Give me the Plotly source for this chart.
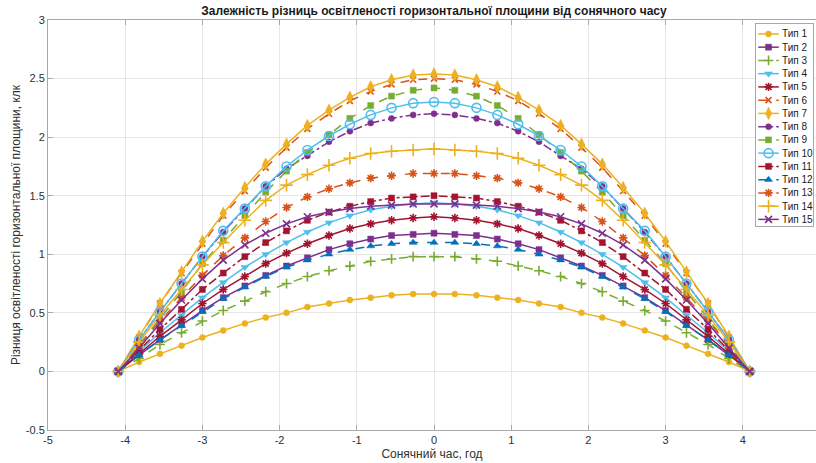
import plotly.graph_objects as go

# ---------------- data ----------------
hours = [-4.09, -3.82, -3.55, -3.27, -3.00, -2.73, -2.45, -2.18, -1.91, -1.64, -1.36,
         -1.09, -0.82, -0.55, -0.27, 0.00, 0.27, 0.55, 0.82, 1.09, 1.36, 1.64, 1.91,
         2.18, 2.45, 2.73, 3.00, 3.27, 3.55, 3.82, 4.09]

tip01 = [0, 0.08, 0.15, 0.22, 0.29, 0.35, 0.41, 0.46, 0.50, 0.55, 0.58, 0.61, 0.63, 0.65, 0.66, 0.66,
         0.66, 0.65, 0.63, 0.61, 0.58, 0.55, 0.50, 0.46, 0.41, 0.35, 0.29, 0.22, 0.15, 0.08, 0]
tip02 = [0, 0.14, 0.27, 0.40, 0.52, 0.63, 0.73, 0.82, 0.90, 0.97, 1.04, 1.09, 1.13, 1.16, 1.17, 1.18,
         1.17, 1.16, 1.13, 1.09, 1.04, 0.97, 0.90, 0.82, 0.73, 0.63, 0.52, 0.40, 0.27, 0.14, 0]
tip03 = [0, 0.11, 0.23, 0.33, 0.43, 0.52, 0.60, 0.68, 0.75, 0.81, 0.86, 0.90, 0.94, 0.96, 0.98, 0.98,
         0.98, 0.96, 0.94, 0.90, 0.86, 0.81, 0.75, 0.68, 0.60, 0.52, 0.43, 0.33, 0.23, 0.11, 0]
tip04 = [0, 0.17, 0.33, 0.48, 0.63, 0.76, 0.89, 1.00, 1.10, 1.19, 1.27, 1.33, 1.38, 1.41, 1.43, 1.44,
         1.43, 1.41, 1.38, 1.33, 1.27, 1.19, 1.10, 1.00, 0.89, 0.76, 0.63, 0.48, 0.33, 0.17, 0]
tip05 = [0, 0.15, 0.30, 0.44, 0.58, 0.70, 0.81, 0.92, 1.01, 1.09, 1.16, 1.22, 1.26, 1.29, 1.31, 1.32,
         1.31, 1.29, 1.26, 1.22, 1.16, 1.09, 1.01, 0.92, 0.81, 0.70, 0.58, 0.44, 0.30, 0.15, 0]
tip06 = [0, 0.29, 0.58, 0.84, 1.09, 1.33, 1.54, 1.74, 1.91, 2.07, 2.20, 2.31, 2.39, 2.45, 2.49, 2.50,
         2.49, 2.45, 2.39, 2.31, 2.20, 2.07, 1.91, 1.74, 1.54, 1.33, 1.09, 0.84, 0.58, 0.29, 0]
tip07 = [0, 0.30, 0.58, 0.85, 1.11, 1.35, 1.57, 1.77, 1.94, 2.10, 2.23, 2.34, 2.43, 2.49, 2.53, 2.54,
         2.53, 2.49, 2.43, 2.34, 2.23, 2.10, 1.94, 1.77, 1.57, 1.35, 1.11, 0.85, 0.58, 0.30, 0]
tip08 = [0, 0.27, 0.51, 0.75, 0.98, 1.19, 1.39, 1.58, 1.73, 1.84, 1.96, 2.05, 2.12, 2.16, 2.19, 2.20,
         2.19, 2.16, 2.12, 2.05, 1.96, 1.84, 1.73, 1.58, 1.39, 1.19, 0.98, 0.75, 0.51, 0.27, 0]
tip09 = [0, 0.22, 0.45, 0.68, 0.92, 1.12, 1.33, 1.53, 1.71, 1.87, 2.02, 2.16, 2.27, 2.35, 2.40, 2.42,
         2.40, 2.35, 2.27, 2.16, 2.02, 1.87, 1.71, 1.53, 1.33, 1.12, 0.92, 0.68, 0.45, 0.22, 0]
tip10 = [0, 0.27, 0.51, 0.75, 0.98, 1.20, 1.39, 1.58, 1.75, 1.89, 2.01, 2.11, 2.19, 2.25, 2.29, 2.30,
         2.29, 2.25, 2.19, 2.11, 2.01, 1.89, 1.75, 1.58, 1.39, 1.20, 0.98, 0.75, 0.51, 0.27, 0]
tip11 = [0, 0.18, 0.36, 0.53, 0.70, 0.84, 0.98, 1.10, 1.20, 1.29, 1.36, 1.41, 1.45, 1.48, 1.49, 1.50,
         1.49, 1.48, 1.45, 1.41, 1.36, 1.29, 1.20, 1.10, 0.98, 0.84, 0.70, 0.53, 0.36, 0.18, 0]
tip12 = [0, 0.14, 0.27, 0.39, 0.51, 0.62, 0.72, 0.81, 0.89, 0.95, 1.00, 1.04, 1.07, 1.09, 1.10, 1.10,
         1.10, 1.09, 1.07, 1.04, 1.00, 0.95, 0.89, 0.81, 0.72, 0.62, 0.51, 0.39, 0.27, 0.14, 0]
tip13 = [0, 0.22, 0.43, 0.63, 0.82, 0.99, 1.14, 1.28, 1.40, 1.49, 1.56, 1.61, 1.65, 1.67, 1.69, 1.69,
         1.69, 1.67, 1.65, 1.61, 1.56, 1.49, 1.40, 1.28, 1.14, 0.99, 0.82, 0.63, 0.43, 0.22, 0]
tip14 = [0, 0.25, 0.48, 0.70, 0.91, 1.10, 1.29, 1.46, 1.59, 1.68, 1.76, 1.82, 1.86, 1.88, 1.89, 1.90,
         1.89, 1.88, 1.86, 1.82, 1.76, 1.68, 1.59, 1.46, 1.29, 1.10, 0.91, 0.70, 0.48, 0.25, 0]
tip15 = [0, 0.20, 0.41, 0.61, 0.79, 0.95, 1.08, 1.18, 1.26, 1.32, 1.36, 1.39, 1.41, 1.42, 1.43, 1.43,
         1.43, 1.42, 1.41, 1.39, 1.36, 1.32, 1.26, 1.18, 1.08, 0.95, 0.79, 0.61, 0.41, 0.20, 0]

names = ["Тип 1", "Тип 2", "Тип 3", "Тип 4", "Тип 5", "Тип 6", "Тип 7", "Тип 8",
         "Тип 9", "Тип 10", "Тип 11", "Тип 12", "Тип 13", "Тип 14", "Тип 15"]

x_tickvals = [-5, -4, -3, -2, -1, 0, 1, 2, 3, 4]
x_ticktext = ["-5", "-4", "-3", "-2", "-1", "0", "1", "2", "3", "4"]
y_tickvals = [-0.5, 0, 0.5, 1, 1.5, 2, 2.5, 3]
y_ticktext = ["-0.5", "0", "0.5", "1", "1.5", "2", "2.5", "3"]

title_text = "Залежність різниць освітленості горизонтальної площини від сонячного часу"
x_title = "Сонячний час, год"
y_title = "Різниця освітленості горизонтальної площини, клк"

series = [tip01, tip02, tip03, tip04, tip05, tip06, tip07, tip08,
          tip09, tip10, tip11, tip12, tip13, tip14, tip15]

# ---------------- styles ----------------
YEL, PUR, GRN, CYA, RED, ORA, BLU = "#EDB120", "#7E2F8E", "#77AC30", "#4DBEEE", "#A2142F", "#D95319", "#0072BD"
styles = [
    dict(c=YEL, dash="solid",   sym="circle",          size=6, open=False),
    dict(c=PUR, dash="solid",   sym="square",          size=6, open=False),
    dict(c=GRN, dash="dash",    sym="cross-thin-open", size=7, open=True),
    dict(c=CYA, dash="solid",   sym="triangle-down",   size=7, open=False),
    dict(c=RED, dash="solid",   sym="asterisk-open",   size=7, open=True),
    dict(c=ORA, dash="dash",    sym="x-thin-open",     size=6, open=True),
    dict(c=YEL, dash="solid",   sym="diamond-tall",    size=9, open=False),
    dict(c=PUR, dash="dashdot", sym="circle",          size=6, open=False),
    dict(c=GRN, dash="dash",    sym="square",          size=6, open=False),
    dict(c=CYA, dash="solid",   sym="circle-open",     size=9, open=True),
    dict(c=RED, dash="dashdot", sym="square",          size=6, open=False),
    dict(c=BLU, dash="dash",    sym="triangle-up",     size=7, open=False),
    dict(c=ORA, dash="dash",    sym="asterisk-open",   size=7, open=True),
    dict(c=YEL, dash="solid",   sym="cross-thin-open", size=9, open=True),
    dict(c=PUR, dash="solid",   sym="x-thin-open",     size=7, open=True),
]

def marker_of(st):
    if st["open"]:
        return dict(symbol=st["sym"], size=st["size"], color=st["c"],
                    line=dict(color=st["c"], width=1.6))
    return dict(symbol=st["sym"], size=st["size"], color=st["c"],
                line=dict(color=st["c"], width=0.5))

fig = go.Figure()
for vals, nm, st in zip(series, names, styles):
    fig.add_trace(go.Scatter(
        x=hours, y=vals, name=nm, mode="lines+markers",
        line=dict(color=st["c"], width=1.5, dash=st["dash"]),
        marker=marker_of(st), showlegend=False, xaxis="x", yaxis="y"))

# ---------------- custom legend (compact, MATLAB-like) ----------------
annotations = []
for i, (nm, st) in enumerate(zip(names, styles)):
    row = i + 1
    fig.add_trace(go.Scatter(
        x=[0.04, 0.40], y=[row, row], mode="lines",
        line=dict(color=st["c"], width=1.5, dash=st["dash"]),
        showlegend=False, hoverinfo="skip", xaxis="x2", yaxis="y2"))
    fig.add_trace(go.Scatter(
        x=[0.22], y=[row], mode="markers", marker=marker_of(st),
        showlegend=False, hoverinfo="skip", xaxis="x2", yaxis="y2", cliponaxis=False))
    annotations.append(dict(
        x=0.44, y=row, xref="x2", yref="y2", text=nm, showarrow=False,
        xanchor="left", yanchor="middle", borderpad=0,
        font=dict(family="Liberation Sans, Arial, sans-serif", size=10, color="#1a1a1a")))

W, H = 816, 463
ML, MR, MT, MB = 48, 0, 20, 33
plot_w = W - ML - MR
plot_h = H - MT - MB

def px_x(px):
    return (px - ML) / plot_w

def px_y(py):
    return (H - MB - py) / plot_h

AX = "#a8a8a8"
GRID = "#e6e6e6"
TXT = "#303030"
FONT = "Liberation Sans, Arial, sans-serif"

fig.update_layout(
    width=W, height=H,
    margin=dict(l=ML, r=MR, t=MT, b=MB, pad=0),
    paper_bgcolor="white", plot_bgcolor="white",
    showlegend=False,
    font=dict(family=FONT, size=11, color=TXT),
    title=dict(text="<b>" + title_text + "</b>", x=px_x(434), xref="paper", xanchor="center",
               y=1 - 10.5 / H, yref="container", yanchor="middle",
               font=dict(family=FONT, size=12, color="#1a1a1a")),
    xaxis=dict(domain=[0, 1], range=[-5, 4.948], tickvals=x_tickvals, ticktext=x_ticktext,
               showgrid=True, gridcolor=GRID, gridwidth=1, zeroline=False,
               showline=True, linecolor=AX, linewidth=1, mirror="ticks",
               ticks="inside", ticklen=5, tickcolor=AX,
               tickfont=dict(family=FONT, size=11, color=TXT),
               title=dict(text=x_title, standoff=4, font=dict(family=FONT, size=12, color=TXT))),
    yaxis=dict(domain=[0, 1], range=[-0.5, 3], tickvals=y_tickvals, ticktext=y_ticktext,
               showgrid=True, gridcolor=GRID, gridwidth=1, zeroline=False,
               showline=True, linecolor=AX, linewidth=1, mirror=False,
               ticks="inside", ticklen=5, tickcolor=AX,
               tickfont=dict(family=FONT, size=11, color=TXT),
               title=dict(text=y_title, standoff=2, font=dict(family=FONT, size=12, color=TXT))),
    xaxis2=dict(domain=[px_x(756), px_x(813)], range=[0, 1], anchor="y2",
                showgrid=False, zeroline=False, showticklabels=False, ticks="",
                showline=True, linecolor=AX, linewidth=1, mirror=True, fixedrange=True),
    yaxis2=dict(domain=[px_y(226), px_y(24)], range=[15.5, 0.25], anchor="x2",
                showgrid=False, zeroline=False, showticklabels=False, ticks="",
                showline=True, linecolor=AX, linewidth=1, mirror=True, fixedrange=True),
    annotations=annotations,
)

fig.write_html("out.html")
